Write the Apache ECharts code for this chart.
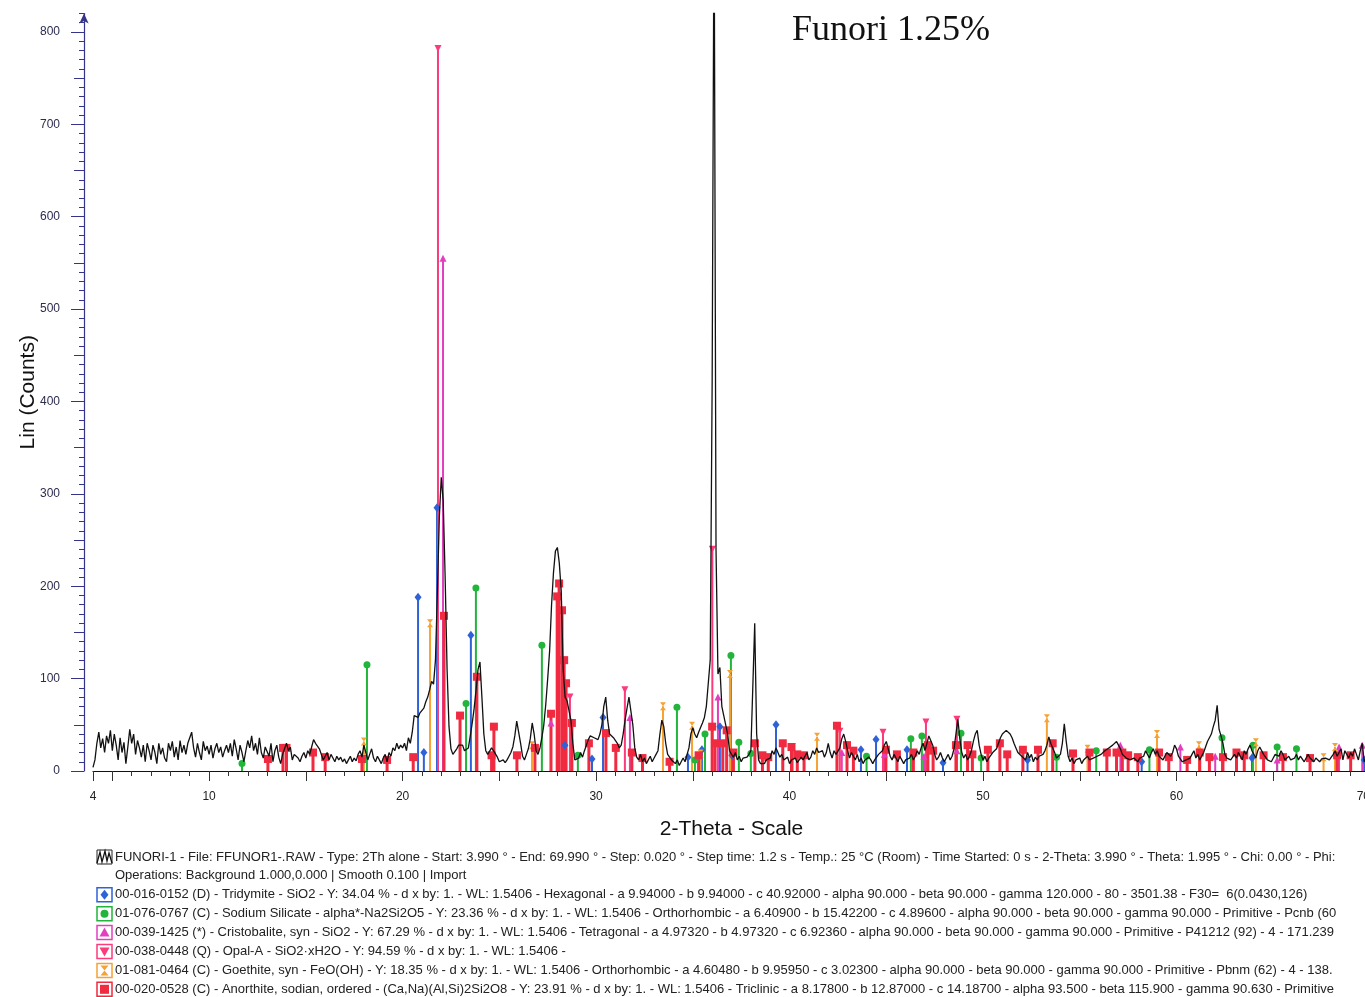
<!DOCTYPE html>
<html>
<head>
<meta charset="utf-8">
<title>Funori 1.25%</title>
<script src="https://cdn.jsdelivr.net/npm/echarts@6.0.0/dist/echarts.min.js"></script>
<style>
  html, body { margin: 0; padding: 0; background: #fff; }
  #main { width: 1365px; height: 997px; }
</style>
</head>
<body>
<div id="main"></div>
<script>
// scan: 2-theta from 4.0 in 0.1 deg steps, counts
const scanStart = 4.0;
const scanStep = 0.1;
const scanCounts = [
  4, 12, 30, 42, 25, 35, 20, 38, 30, 44,      // 4
  22, 40, 28, 12, 36, 20, 31, 8, 26, 45,      // 5
  30, 40, 18, 33, 25, 15, 28, 10, 30, 22,     // 6
  12, 28, 20, 8, 30, 18, 25, 14, 10, 30,      // 7
  22, 32, 15, 26, 12, 33, 20, 28, 18, 30,     // 8
  36, 42, 25, 15, 30, 20, 12, 32, 22, 27,     // 9
  18, 28, 14, 24, 30, 20, 26, 15, 22, 28,     // 10
  20, 30, 16, 34, 24, 12, 28, 20, 10, 22,     // 11
  33, 25, 38, 22, 30, 18, 36, 20, 14, 26,     // 12
  24, 16, 30, 10, 22, 28, 15, 8, 18, 24,      // 13
  30, 22, 26, 12, 18, 20, 14, 10, 16, 20,     // 14
  14, 22, 18, 26, 34, 30, 28, 24, 18, 12,     // 15
  16, 20, 12, 18, 14, 10, 16, 12, 15, 10,     // 16
  13, 8, 12, 16, 10, 14, 11, 18, 22, 15,      // 17
  28, 20, 12, 18, 24, 14, 10, 16, 12, 8,      // 18
  14, 18, 10, 20, 16, 25, 22, 30, 24, 28,     // 19
  25, 30, 22, 36, 30, 42, 60, 62, 58, 63,     // 20
  62, 68, 75, 80, 88, 97, 94, 120, 195, 275,  // 21
  318, 292, 210, 110, 48, 24, 18, 17, 24, 28, // 22
  30, 28, 22, 20, 25, 38, 52, 68, 88, 110,    // 23
  118, 80, 40, 22, 18, 20, 25, 22, 24, 15,    // 24
  10, 8, 12, 9, 12, 16, 20, 26, 38, 54,       // 25
  56, 30, 16, 12, 18, 24, 35, 52, 40, 22,     // 26
  18, 25, 36, 50, 72, 100, 130, 180, 215, 238,// 27
  242, 225, 195, 110, 80, 76, 78, 55, 30, 12, // 28
  10, 14, 20, 15, 22, 28, 34, 38, 40, 36,     // 29
  38, 34, 40, 50, 70, 80, 55, 40, 42, 36,     // 30
  38, 30, 25, 28, 40, 55, 68, 80, 82, 50,     // 31
  25, 15, 12, 18, 10, 14, 8, 12, 16, 10,      // 32
  14, 18, 22, 40, 55, 48, 30, 18, 15, 12,     // 33
  10, 8, 12, 6, 10, 14, 10, 12, 25, 40,       // 34
  47, 40, 36, 42, 47, 52, 58, 70, 95, 120,    // 35
  420, 950, 240, 105, 112, 70, 60, 62, 40, 22,// 36
  18, 15, 20, 12, 16, 10, 14, 12, 15, 18,     // 37
  22, 90, 160, 40, 12, 8, 10, 8, 12, 10,      // 38
  14, 22, 18, 25, 20, 15, 18, 12, 10, 15,     // 39
  8, 12, 10, 14, 9, 11, 15, 12, 10, 20,       // 40
  12, 15, 22, 18, 25, 20, 18, 22, 15, 20,     // 41
  30, 20, 14, 22, 18, 16, 25, 35, 40, 32,     // 42
  22, 14, 20, 16, 12, 18, 10, 14, 8, 12,      // 43
  10, 15, 12, 8, 12, 14, 18, 16, 22, 28,      // 44
  32, 24, 16, 12, 18, 14, 10, 16, 12, 8,      // 45
  12, 10, 14, 18, 12, 16, 22, 18, 25, 30,     // 46
  22, 30, 38, 40, 28, 18, 12, 15, 20, 14,     // 47
  10, 14, 18, 12, 16, 24, 40, 56, 35, 20,     // 48
  14, 18, 12, 16, 22, 32, 40, 44, 28, 18,     // 49
  12, 16, 10, 14, 12, 20, 18, 24, 30, 36,     // 50
  40, 42, 44, 46, 40, 36, 30, 25, 20, 22,     // 51
  16, 18, 12, 20, 14, 18, 10, 15, 12, 16,     // 52
  14, 18, 22, 28, 37, 30, 25, 20, 14, 12,     // 53
  18, 30, 51, 32, 16, 10, 14, 8, 12, 10,      // 54
  14, 8, 12, 10, 16, 12, 10, 14, 12, 16,      // 55
  14, 18, 20, 22, 20, 25, 24, 28, 30, 32,     // 56
  28, 24, 18, 20, 14, 16, 12, 10, 14, 12,     // 57
  10, 14, 12, 16, 22, 18, 14, 20, 24, 18,     // 58
  22, 16, 18, 12, 14, 20, 18, 16, 20, 28,     // 59
  24, 16, 14, 10, 8, 12, 10, 14, 18, 22,      // 60
  14, 18, 12, 16, 20, 22, 32, 34, 40, 48,     // 61
  55, 71, 45, 38, 30, 18, 14, 16, 12, 14,     // 62
  18, 14, 20, 16, 12, 22, 18, 24, 28, 22,     // 63
  18, 14, 22, 26, 24, 18, 16, 12, 14, 10,     // 64
  14, 18, 20, 16, 22, 18, 12, 14, 16, 12,     // 65
  10, 14, 18, 12, 16, 14, 10, 12, 18, 14,     // 66
  12, 10, 14, 12, 10, 13, 12, 14, 16, 12,     // 67
  14, 18, 22, 16, 20, 24, 12, 22, 18, 14,     // 68
  20, 16, 24, 18, 12, 22, 30, 10, 14, 12,     // 69
  10
];

// reference patterns: [2-theta, counts]
const tridymite = [[20.80,188],[21.10,20],[21.78,285],[23.53,147],[28.39,28],[29.79,13],[30.36,58],[34.75,15],[35.47,23],[36.40,48],[37.02,17],[39.30,50],[43.69,23],[44.47,34],[46.07,23],[47.93,9],[52.30,12],[58.20,10],[63.90,14],[69.70,12]];
const sodiumSilicate = [[11.70,8],[18.16,115],[23.28,73],[23.79,198],[27.20,136],[29.06,17],[34.18,69],[35.11,12],[35.63,40],[36.97,125],[37.38,31],[38.00,19],[43.98,16],[46.27,35],[46.84,38],[48.86,41],[49.90,14],[53.80,15],[55.85,22],[58.60,23],[59.10,20],[62.35,36],[63.95,28],[65.20,26],[66.20,24]];
const cristobalite = [[22.09,555],[27.67,52],[31.75,58],[36.30,80],[42.70,20],[44.90,18],[46.95,16],[48.65,22],[57.10,28],[60.20,26],[62.00,16],[65.20,12],[68.40,26],[69.60,28]];
const opalA = [[21.83,782],[28.65,80],[31.49,88],[36.01,240],[42.60,43],[44.83,42],[47.05,53],[48.65,56]];
const goethite = [[18.00,32],[21.42,160],[26.69,28],[33.46,70],[34.96,49],[35.40,19],[36.92,105],[40.18,26],[41.42,37],[53.30,57],[55.40,24],[58.99,40],[61.16,28],[64.10,31],[67.60,15],[68.19,26]];
const anorthite = [[13.04,13],[13.82,25],[14.00,25],[15.37,20],[16.00,15],[17.90,13],[19.20,12],[20.55,15],[22.14,168],[22.97,60],[23.84,102],[24.60,17],[24.72,48],[25.91,17],[26.84,25],[27.67,62],[27.99,189],[28.09,203],[28.24,174],[28.35,120],[28.45,95],[28.75,52],[29.63,30],[30.51,41],[31.02,25],[31.85,20],[32.40,14],[33.80,10],[35.30,17],[36.00,48],[36.15,30],[36.55,30],[36.75,44],[37.10,20],[38.21,30],[38.60,17],[38.90,15],[39.65,30],[40.10,26],[40.40,18],[40.75,17],[42.45,49],[42.97,28],[43.30,22],[44.98,23],[45.55,18],[46.40,20],[47.15,28],[47.42,22],[48.60,28],[49.20,28],[49.45,18],[50.25,23],[50.87,30],[51.25,18],[52.06,23],[52.84,23],[53.60,30],[54.65,19],[55.50,20],[56.40,20],[56.90,20],[57.20,20],[57.50,17],[58.00,15],[59.10,20],[59.60,15],[60.55,12],[61.20,20],[61.70,15],[62.40,15],[63.10,20],[63.50,17],[64.50,17],[65.50,15],[66.90,14],[68.30,17],[69.00,17]];

const xLabels = [4, 10, 20, 30, 40, 50, 60, 70];
const xLongTicks = [4, 5, 10, 15, 20, 25, 30, 35, 40, 45, 50, 55, 60, 65, 70];
const yLabels = [0, 100, 200, 300, 400, 500, 600, 700, 800];
const yMidTicks = [50, 150, 250, 350, 450, 550, 650, 750];

const legendLines = [
  'FUNORI-1 - File: FFUNOR1-.RAW - Type: 2Th alone - Start: 3.990 ° - End: 69.990 ° - Step: 0.020 ° - Step time: 1.2 s - Temp.: 25 °C (Room) - Time Started: 0 s - 2-Theta: 3.990 ° - Theta: 1.995 ° - Chi: 0.00 ° - Phi:',
  'Operations: Background 1.000,0.000 | Smooth 0.100 | Import',
  '00-016-0152 (D) - Tridymite - SiO2 - Y: 34.04 % - d x by: 1. - WL: 1.5406 - Hexagonal - a 9.94000 - b 9.94000 - c 40.92000 - alpha 90.000 - beta 90.000 - gamma 120.000 - 80 - 3501.38 - F30=  6(0.0430,126)',
  '01-076-0767 (C) - Sodium Silicate - alpha*-Na2Si2O5 - Y: 23.36 % - d x by: 1. - WL: 1.5406 - Orthorhombic - a 6.40900 - b 15.42200 - c 4.89600 - alpha 90.000 - beta 90.000 - gamma 90.000 - Primitive - Pcnb (60',
  '00-039-1425 (*) - Cristobalite, syn - SiO2 - Y: 67.29 % - d x by: 1. - WL: 1.5406 - Tetragonal - a 4.97320 - b 4.97320 - c 6.92360 - alpha 90.000 - beta 90.000 - gamma 90.000 - Primitive - P41212 (92) - 4 - 171.239',
  '00-038-0448 (Q) - Opal-A - SiO2·xH2O - Y: 94.59 % - d x by: 1. - WL: 1.5406 -',
  '01-081-0464 (C) - Goethite, syn - FeO(OH) - Y: 18.35 % - d x by: 1. - WL: 1.5406 - Orthorhombic - a 4.60480 - b 9.95950 - c 3.02300 - alpha 90.000 - beta 90.000 - gamma 90.000 - Primitive - Pbnm (62) - 4 - 138.',
  '00-020-0528 (C) - Anorthite, sodian, ordered - (Ca,Na)(Al,Si)2Si2O8 - Y: 23.91 % - d x by: 1. - WL: 1.5406 - Triclinic - a 8.17800 - b 12.87000 - c 14.18700 - alpha 93.500 - beta 115.900 - gamma 90.630 - Primitive'
];

// phase styling
const phases = [
  { data: tridymite,      color: '#2f62d6', symbol: 'diamond',  size: [7, 9], rotate: 0,   width: 2 },
  { data: sodiumSilicate, color: '#22b53c', symbol: 'circle',   size: 7,      rotate: 0,   width: 2 },
  { data: cristobalite,   color: '#e23fc0', symbol: 'triangle', size: 7,      rotate: 0,   width: 2 },
  { data: opalA,          color: '#fb3b7c', symbol: 'triangle', size: 7,      rotate: 180, width: 2 },
  { data: goethite,       color: '#f6a234', symbol: 'path://M0,0L10,0L0,14L10,14Z', size: [6, 8], rotate: 0, width: 2 },
  { data: anorthite,      color: '#f02a40', symbol: 'rect',     size: 8,      rotate: 0,   width: 3 }
];

const scan = scanCounts.map((v, i) => [+(scanStart + i * scanStep).toFixed(2), v]);

const font = '"Liberation Sans", Arial, sans-serif';
const navy = '#34358a';

let series = [];
phases.forEach(p => {
  series.push({
    type: 'custom',
    data: p.data,
    z: 2,
    silent: true,
    clip: true,
    encode: { x: 0, y: 1 },
    renderItem: function (params, api) {
      const top = api.coord([api.value(0), api.value(1)]);
      const base = api.coord([api.value(0), 0]);
      return {
        type: 'line',
        shape: { x1: top[0], y1: top[1], x2: base[0], y2: base[1] },
        style: { stroke: p.color, lineWidth: p.width }
      };
    }
  });
  series.push({
    type: 'scatter',
    data: p.data,
    z: 3,
    silent: true,
    symbol: p.symbol,
    symbolSize: p.size,
    symbolRotate: p.rotate,
    itemStyle: { color: p.color, opacity: 1 }
  });
});
series.push({
  type: 'line',
  data: scan,
  z: 5,
  showSymbol: false,
  silent: true,
  clip: true,
  lineStyle: { color: '#111', width: 1.3 }
});

// legend block under the chart
let graphics = [];
legendLines.forEach((txt, i) => {
  const yc = 857 + i * 18.9;
  graphics.push({
    type: 'text', z: 10,
    style: { x: 115, y: yc, text: txt, font: '13px ' + font, fill: '#222', verticalAlign: 'middle' }
  });
  if (i === 1) return;
  if (i === 0) {
    graphics.push({ type: 'rect', z: 10, shape: { x: 97, y: yc - 7, width: 15, height: 14 }, style: { fill: 'none', stroke: '#222', lineWidth: 1 } });
    graphics.push({ type: 'polyline', z: 11, shape: { points: [[97, yc + 6], [100, yc - 5], [102, yc + 5], [105, yc - 6], [107, yc + 4], [109, yc - 4], [112, yc + 6]] }, style: { stroke: '#111', lineWidth: 1.3, fill: 'none' } });
    return;
  }
  const p = phases[i - 2];
  const cx = 104.5;
  graphics.push({ type: 'rect', z: 10, shape: { x: 97, y: yc - 7, width: 15, height: 14 }, style: { fill: '#fff', stroke: p.color, lineWidth: 1.5 } });
  let icon;
  if (i === 2) icon = { type: 'polygon', shape: { points: [[cx, yc - 5], [cx + 4, yc], [cx, yc + 5], [cx - 4, yc]] } };
  else if (i === 3) icon = { type: 'circle', shape: { cx: cx, cy: yc, r: 4 } };
  else if (i === 4) icon = { type: 'polygon', shape: { points: [[cx, yc - 5], [cx + 5, yc + 4], [cx - 5, yc + 4]] } };
  else if (i === 5) icon = { type: 'polygon', shape: { points: [[cx - 5, yc - 4], [cx + 5, yc - 4], [cx, yc + 5]] } };
  else if (i === 6) icon = { type: 'polygon', shape: { points: [[cx - 4, yc - 5], [cx + 4, yc - 5], [cx - 4, yc + 5], [cx + 4, yc + 5]] } };
  else icon = { type: 'rect', shape: { x: cx - 4.5, y: yc - 4.5, width: 9, height: 9 } };
  icon.z = 11;
  icon.style = { fill: p.color };
  graphics.push(icon);
});
graphics.push({
  type: 'text', z: 10,
  style: { x: 792, y: 31, text: 'Funori 1.25%', font: '36px "Liberation Serif", "DejaVu Serif", serif', fill: '#111', verticalAlign: 'middle' }
});

const chart = echarts.init(document.getElementById('main'));
const option = {
  animation: false,
  backgroundColor: '#fff',
  grid: { left: 93, width: 1277, top: 13.5, bottom: 226, containLabel: false, outerBoundsMode: 'none' },
  xAxis: [
    {
      type: 'value', min: 4, max: 70, interval: 1, position: 'bottom',
      axisLine: { show: true, onZero: false, lineStyle: { color: '#111', width: 1.2 } },
      axisTick: { show: true, length: 5, lineStyle: { color: '#333' } },
      axisLabel: { customValues: xLabels, margin: 20, fontSize: 12, color: '#222', fontFamily: font, hideOverlap: false, alignMaxLabel: 'right' },
      splitLine: { show: false },
      name: '2-Theta - Scale', nameLocation: 'middle', nameGap: 48, nameMoveOverlap: false,
      nameTextStyle: { fontSize: 21, color: '#111', fontFamily: font }
    },
    {
      type: 'value', min: 4, max: 70, position: 'bottom',
      axisLine: { show: false, onZero: false },
      axisTick: { show: true, customValues: xLongTicks, length: 10, lineStyle: { color: '#333' } },
      axisLabel: { show: false },
      splitLine: { show: false }
    }
  ],
  yAxis: [
    {
      type: 'value', min: 0, max: 820, position: 'left', offset: 9,
      axisLine: { show: true, onZero: false, symbol: ['none', 'arrow'], symbolSize: [7, 10], lineStyle: { color: navy, width: 1.2 } },
      axisTick: { show: true, customValues: yLabels, length: 13, lineStyle: { color: navy } },
      axisLabel: { customValues: yLabels, margin: 24, fontSize: 12, color: '#2c2c50', fontFamily: font },
      splitLine: { show: false },
      name: 'Lin (Counts)', nameLocation: 'middle', nameGap: 45, nameRotate: 90, nameMoveOverlap: false,
      nameTextStyle: { fontSize: 21, color: '#111', fontFamily: font }
    },
    {
      type: 'value', min: 0, max: 820, interval: 10, position: 'left', offset: 9,
      axisLine: { show: false, onZero: false },
      axisTick: { show: true, length: 5, lineStyle: { color: navy } },
      axisLabel: { show: false },
      splitLine: { show: false }
    },
    {
      type: 'value', min: 0, max: 820, position: 'left', offset: 9,
      axisLine: { show: false, onZero: false },
      axisTick: { show: true, customValues: yMidTicks, length: 10, lineStyle: { color: navy } },
      axisLabel: { show: false },
      splitLine: { show: false }
    }
  ],
  series: series,
  graphic: graphics
};
chart.setOption(option);
</script>
</body>
</html>
